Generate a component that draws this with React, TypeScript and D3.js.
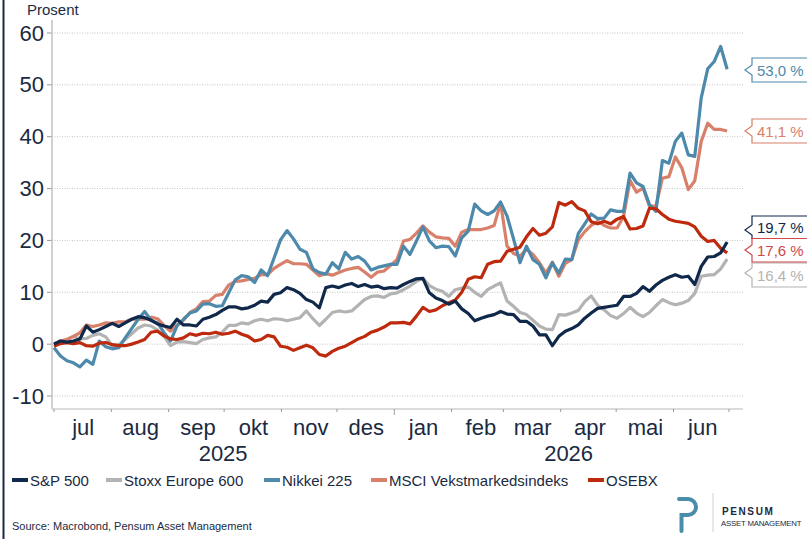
import React from "react";
import * as d3 from "d3";

// sample points every 3.5 days from 1 jul 2025
const startDate = new Date(2025, 6, 1);
const nPoints = 105;
const dates = d3.range(nPoints).map((k) => new Date(startDate.getTime() + k * 3.5 * 864e5));

// % change since start
const spx = [
  0, 0.6, 0.4, 0.6, 1.0, 3.5, 2.3, 2.8, 3.4, 4.0,
  3.4, 4.1, 4.8, 5.3, 5.1, 4.6, 3.9, 3.5, 3.2, 4.8,
  3.7, 3.7, 3.5, 4.8, 5.2, 5.7, 6.5, 7.2, 7.2, 6.8,
  7.0, 7.5, 8.3, 8.1, 9.6, 9.9, 10.9, 10.5, 9.8, 8.6,
  8.1, 7.0, 10.9, 11.2, 10.9, 11.4, 11.7, 11.1, 11.5, 11.0,
  11.2, 10.7, 10.9, 10.8, 11.5, 12.1, 12.6, 12.7, 9.9, 8.9,
  8.4, 7.7, 8.3, 6.8, 5.9, 4.5, 5.0, 5.4, 5.7, 6.3,
  5.8, 5.7, 4.4, 4.4, 3.5, 1.8, 1.8, -0.3, 1.5, 2.5,
  3.0, 3.7, 5.0, 6.0, 6.9, 7.1, 7.3, 7.5, 9.2, 9.2,
  9.8, 11.1, 10.2, 11.4, 12.3, 12.9, 13.4, 12.9, 13.1, 11.5,
  15.0, 16.8, 16.9, 17.6, 19.7,
];
const stoxx = [
  0, 0.6, 0.9, 1.5, 1.0, 1.1, 1.7, 2.0, 1.4, -0.3,
  -0.1, 0.9, 2.0, 3.1, 3.7, 3.5, 2.7, 1.5, -0.3, 0.4,
  0.5, 0.3, 0.1, 0.9, 1.2, 1.4, 2.3, 3.6, 3.6, 4.1,
  3.9, 4.5, 4.8, 4.5, 4.9, 4.8, 4.5, 4.8, 5.1, 6.4,
  4.9, 3.6, 4.8, 6.1, 6.4, 6.2, 6.4, 7.5, 8.6, 9.2,
  9.3, 9.0, 9.7, 9.9, 10.5, 11.2, 12.1, 12.7, 11.3, 10.6,
  10.2, 9.2, 10.5, 10.8, 11.0, 10.0, 9.2, 10.5, 11.2, 11.8,
  8.3, 7.3, 6.1, 5.7, 4.6, 3.5, 2.9, 2.8, 5.7, 5.6,
  6.0, 6.5, 8.2, 9.3, 7.5, 6.6, 5.5, 5.0, 5.9, 7.1,
  6.0, 5.3, 6.1, 7.4, 8.6, 8.0, 7.6, 7.9, 8.4, 9.8,
  13.1, 13.3, 13.4, 14.5, 16.4,
];
const nikkei = [
  -0.7, -2.3, -3.2, -3.6, -4.4, -3.1, -3.9, 0.6, -0.5, -0.9,
  -0.7, 1.2, 3.0, 4.8, 6.3, 4.6, 4.1, 2.2, 0.6, 3.5,
  4.8, 6.0, 6.4, 7.7, 7.8, 7.3, 7.4, 9.9, 12.4, 13.2,
  13.0, 11.9, 14.3, 13.2, 16.6, 20.1, 21.9, 20.3, 18.3, 17.7,
  14.5, 13.8, 13.5, 15.7, 14.5, 17.7, 16.4, 16.9, 16.0, 14.3,
  14.8, 15.1, 15.4, 15.4, 18.9, 17.3, 19.9, 22.6, 19.9, 18.6,
  18.9, 18.8, 17.0, 20.5, 21.8, 27.0, 25.7, 25.0, 25.7, 27.4,
  24.7, 20.3, 15.7, 18.9, 16.3, 15.4, 12.8, 15.7, 13.7, 16.4,
  16.3, 21.3, 23.2, 25.1, 24.2, 24.3, 25.9, 25.6, 25.6, 33.0,
  31.1, 30.4, 26.9, 25.6, 35.4, 34.9, 39.1, 40.7, 36.5, 36.2,
  47.5, 53.1, 54.5, 57.4, 53.0,
];
const msci = [
  0, 0.6, 0.9, 1.5, 2.2, 3.7, 3.4, 3.7, 4.1, 4.0,
  4.3, 4.3, 4.8, 4.8, 4.8, 5.2, 4.9, 3.6, 2.5, 3.7,
  4.6, 6.1, 6.8, 8.2, 8.3, 9.4, 9.6, 11.4, 12.1, 12.2,
  12.5, 12.7, 13.4, 13.4, 14.6, 15.4, 16.1, 15.5, 15.5, 15.4,
  14.3, 13.2, 13.6, 13.3, 13.8, 14.3, 14.6, 14.8, 13.9, 12.9,
  13.9, 14.1, 15.2, 16.3, 19.9, 20.2, 21.4, 22.8, 21.6, 20.7,
  20.5, 20.4, 18.9, 21.6, 22.1, 22.1, 22.1, 22.4, 22.9, 27.2,
  18.9, 17.5, 17.0, 18.3, 17.3, 15.7, 13.7, 15.8, 13.1, 15.6,
  16.3, 20.1, 21.7, 22.9, 23.7, 22.9, 22.4, 22.4, 24.6, 31.6,
  29.3, 30.1, 26.6, 26.6, 32.0, 32.3, 36.1, 34.0, 29.8, 31.5,
  39.1, 42.6, 41.4, 41.4, 41.1,
];
const osebx = [
  -0.4, 0.1, 0.3, 0.1, 0.3, -0.3, -0.4, 0.2, 0.3, -0.1,
  -0.3, -0.3, 0.0, 0.4, 0.9, 2.3, 2.5, 1.6, 1.0, 0.9,
  1.2, 2.0, 1.7, 2.1, 2.0, 2.3, 1.9, 2.1, 2.5, 1.9,
  1.5, 0.6, 0.9, 1.7, 1.4, -0.4, -0.6, -1.2, -0.7, -0.2,
  -0.7, -2.0, -2.3, -1.4, -0.8, -0.4, 0.3, 1.0, 1.5, 2.3,
  2.7, 3.3, 4.1, 4.1, 4.2, 3.9, 5.4, 7.1, 6.3, 6.6,
  7.4, 8.0, 8.5, 10.0, 12.5, 13.0, 12.8, 15.4, 15.9, 16.0,
  17.9, 18.3, 18.7, 20.7, 22.3, 21.0, 21.4, 22.6, 27.3, 26.8,
  27.5, 26.2, 25.7, 23.6, 23.2, 23.7, 23.2, 24.1, 24.6, 22.2,
  22.3, 22.8, 26.2, 26.1, 25.0, 24.1, 23.7, 23.5, 23.3, 22.6,
  20.8, 19.8, 20.0, 18.5, 17.6,
];

const seriesNames = ["S&P 500", "Stoxx Europe 600", "Nikkei 225", "MSCI Vekstmarkedsindeks", "OSEBX"];
const seriesValues = [spx, stoxx, nikkei, msci, osebx];
const seriesColors = ["#10294a", "#b3b3b3", "#4d89ab", "#d8806a", "#bd2a0e"];
const labelColors = ["#10294a", "#b3b3b3", "#4d89ab", "#d8806a", "#d0494a"];
const endLabels = ["19,7 %", "16,4 %", "53,0 %", "41,1 %", "17,6 %"];
const drawOrder = [1, 3, 2, 4, 0];

const yTicks = [-10, 0, 10, 20, 30, 40, 50, 60];
const monthNames = ["jul", "aug", "sep", "okt", "nov", "des", "jan", "feb", "mar", "apr", "mai", "jun"];
const years = [2025, 2026];

const W = 807;
const H = 539;
const M = { left: 52, right: 743, top: 20, bottom: 409 };
const navy = "#1b2a41";
const font = "'Liberation Sans', Arial, sans-serif";

// end label boxes: [box top, box bottom, pointer y]
const labelBoxes = [
  [216, 238.5, 230],
  [263, 287, 273],
  [58, 82, 70],
  [119, 143, 131],
  [238.5, 262, 250],
];

const legendX = [12, 106, 264, 371, 588];

export default function App() {
  const x = d3
    .scaleTime()
    .domain([new Date(2025, 5, 29, 22), new Date(2026, 6, 8, 14)])
    .range([M.left, M.right]);
  const y = d3.scaleLinear().domain([-10, 60]).range([396, 33]);

  const line = d3
    .line<number>()
    .x((_, i) => x(dates[i]))
    .y((d) => y(d));

  const monthStarts = d3.range(13).map((m) => new Date(2025, 6 + m, 1));

  return (
    <svg
      width={W}
      height={H}
      style={{ position: "absolute", left: 0, top: 0, background: "#fff" }}
      fontFamily={font}
    >
      <rect x={2.5} y={0} width={2} height={H} fill={navy} />

      <text x={27} y={15} fontSize={15} fill={navy}>
        Prosent
      </text>

      {/* grid + y axis */}
      {yTicks.map((t) => (
        <g key={t}>
          <line
            x1={M.left}
            x2={M.right}
            y1={y(t)}
            y2={y(t)}
            stroke="#c4c4c4"
            strokeWidth={1}
            strokeDasharray="1,1.5"
          />
          <line x1={M.left - 5} x2={M.left} y1={y(t)} y2={y(t)} stroke="#9a9a9a" strokeWidth={1} />
          <text x={44} y={y(t) + 7.5} fontSize={22} fill={navy} textAnchor="end">
            {t}
          </text>
        </g>
      ))}
      <line x1={M.left} x2={M.left} y1={M.top} y2={M.bottom} stroke="#c2c2c2" strokeWidth={1.5} />
      <line x1={M.left} x2={M.right} y1={M.bottom} y2={M.bottom} stroke="#cfcfcf" strokeWidth={1.5} />

      {/* x axis */}
      {monthStarts.map((d, i) => (
        <line
          key={i}
          x1={x(d)}
          x2={x(d)}
          y1={M.bottom}
          y2={M.bottom + (d.getMonth() === 0 ? 6 : 3)}
          stroke="#9a9a9a"
          strokeWidth={1}
        />
      ))}
      {monthNames.map((m, i) => {
        const mid = new Date(2025, 6 + i, 16);
        return (
          <text key={m} x={x(mid) + 1.5} y={435} fontSize={22} fill={navy} textAnchor="middle">
            {m}
          </text>
        );
      })}
      {years.map((yr) => {
        const a = Math.max(M.left, x(new Date(yr, 0, 1)));
        const b = Math.min(M.right, x(new Date(yr + 1, 0, 1)));
        return (
          <text key={yr} x={(a + b) / 2} y={461} fontSize={22} fill={navy} textAnchor="middle">
            {yr}
          </text>
        );
      })}

      {/* series */}
      {drawOrder.map((si) => (
        <path
          key={si}
          d={line(seriesValues[si]) || ""}
          fill="none"
          stroke={seriesColors[si]}
          strokeWidth={3.2}
          strokeLinejoin="round"
        />
      ))}

      {/* end labels */}
      {endLabels.map((lab, si) => {
        const [t, b, p] = labelBoxes[si];
        const lx = 752;
        const d = `M${lx - 7},${p} L${lx},${p - 5} L${lx},${t} L${W + 2},${t} L${W + 2},${b} L${lx},${b} L${lx},${p + 5} Z`;
        return (
          <g key={si}>
            <path d={d} fill="#fff" stroke={labelColors[si]} strokeWidth={1.2} />
            <text x={757} y={(t + b) / 2 + 5.5} fontSize={15} fill={labelColors[si]}>
              {lab}
            </text>
          </g>
        );
      })}

      {/* legend */}
      {seriesNames.map((n, i) => (
        <g key={n}>
          <line x1={legendX[i]} x2={legendX[i] + 16} y1={480} y2={480} stroke={seriesColors[i]} strokeWidth={4} />
          <text x={legendX[i] + 18} y={485.5} fontSize={15} fill={navy}>
            {n}
          </text>
        </g>
      ))}

      <text x={12} y={530} fontSize={11} fill={navy}>
        Source: Macrobond, Pensum Asset Management
      </text>

      {/* logo */}
      <path
        d="M679,499 H688 A8,8 0 0 1 688,515 H681.5 V531"
        fill="none"
        stroke="#4a8dab"
        strokeWidth={4}
        strokeLinecap="round"
      />
      <line x1={713} x2={713} y1={493} y2={532} stroke="#d0d0d0" strokeWidth={1} />
      <text x={722} y={515} fontSize={10} fontWeight="bold" letterSpacing={1.6} fill={navy}>
        PENSUM
      </text>
      <text x={721} y={526} fontSize={7.8} fill={navy} letterSpacing={-0.2}>
        ASSET MANAGEMENT
      </text>
    </svg>
  );
}
